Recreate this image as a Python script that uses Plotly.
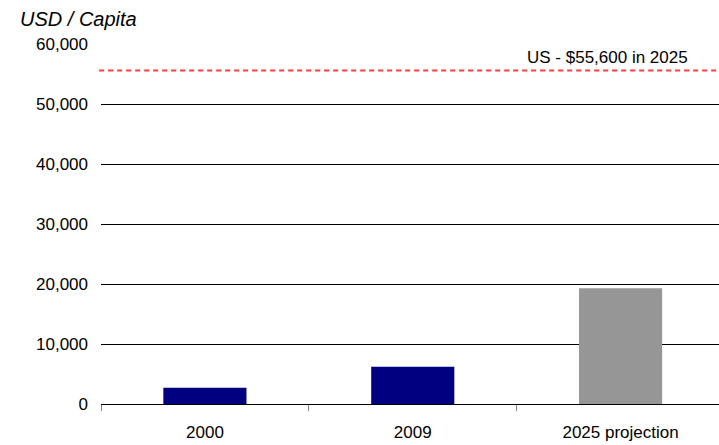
import plotly.graph_objects as go

# GDP per capita, USD
categories = ["2000", "2009", "2025 projection"]
values = [2700, 6200, 19300]
bar_colors = ["#000080", "#000080", "#969696"]

us_2025 = 55600
us_label = f"US - ${us_2025:,} in 2025"

y_ticks = [0, 10000, 20000, 30000, 40000, 50000, 60000]

FONT = "Liberation Sans, Arial, sans-serif"

fig = go.Figure(
    go.Bar(
        x=categories,
        y=values,
        marker=dict(color=bar_colors, line=dict(width=0)),
        width=0.4,
    )
)

# US reference line
fig.add_shape(
    type="line",
    xref="paper", yref="y",
    x0=-0.003, x1=1, y0=us_2025, y1=us_2025,
    line=dict(color="#ff3b3b", width=2, dash="5px,4px"),
)
fig.add_annotation(
    xref="paper", yref="y",
    x=0.953, y=us_2025,
    xanchor="right", yanchor="bottom",
    yshift=1,
    text=us_label,
    showarrow=False,
    font=dict(family=FONT, size=17, color="#000"),
)

fig.update_layout(
    width=719, height=445,
    margin=dict(l=101, r=0, t=44, b=41),
    paper_bgcolor="white",
    plot_bgcolor="white",
    showlegend=False,
    font=dict(family=FONT, size=17, color="#000"),
    title=dict(
        text="<i>USD / Capita</i>",
        xref="container", yref="container",
        x=20 / 719, y=1 - 19 / 445,
        xanchor="left", yanchor="middle",
        font=dict(family=FONT, size=20, color="#000"),
    ),
    xaxis=dict(
        type="category",
        range=[-0.5, 2.4735],
        showline=True, linecolor="#000", linewidth=1,
        ticks="outside", ticklen=6, tickcolor="#808080", tickwidth=1,
        tickson="boundaries",
        showgrid=False,
        ticklabelstandoff=13,
        tickfont=dict(size=17),
    ),
    yaxis=dict(
        range=[0, 60000],
        tickvals=y_ticks,
        tickformat=",",
        showgrid=True, gridcolor="#000", gridwidth=1,
        zeroline=True, zerolinecolor="#000", zerolinewidth=1,
        showline=False,
        ticks="",
        ticklabelstandoff=12,
        tickfont=dict(size=17),
    ),
)

fig.write_html("out.html")
